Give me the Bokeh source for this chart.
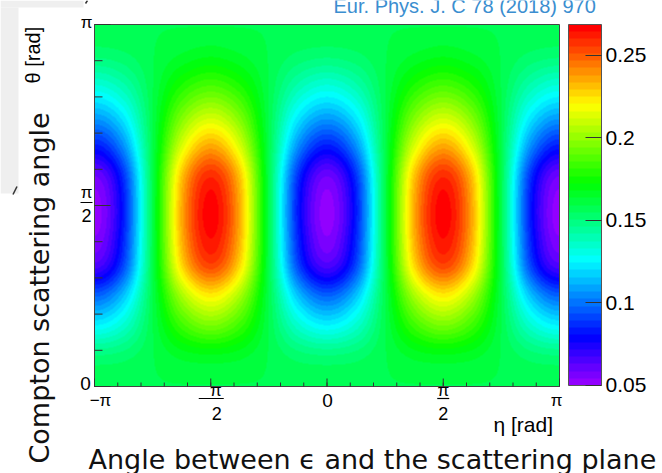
import colorsys
import numpy as np
from bokeh.plotting import figure
from bokeh.models import (LinearColorMapper, ColorBar, FixedTicker, Range1d,
                          CustomJSTickFormatter)
from bokeh.core.properties import value
from bokeh.embed import file_html
from bokeh.resources import INLINE

PI = np.pi

# ---- data ----
# eta nodes in units of pi/8 (from -pi to pi); theta nodes in degrees
eta_nodes_pi8 = [-8, -7, -6, -5, -4, -3, -2, -1, 0, 1, 2, 3, 4, 5, 6, 7, 8]
theta_nodes_deg = [0, 15, 30, 45, 60, 75, 90, 105, 120, 135, 150, 165, 180]

z_theta000 = [.159, .159, .159, .159, .159, .159, .159, .159, .159, .159, .159, .159, .159, .159, .159, .159, .159]
z_theta015 = [.151, .153, .159, .165, .167, .165, .159, .153, .151, .153, .159, .165, .167, .165, .159, .153, .151]
z_theta030 = [.125, .135, .159, .183, .194, .183, .159, .135, .125, .135, .159, .183, .194, .183, .159, .135, .125]
z_theta045 = [.097, .115, .159, .203, .222, .203, .159, .115, .097, .115, .159, .203, .222, .203, .159, .115, .097]
z_theta060 = [.065, .092, .159, .226, .254, .226, .159, .092, .065, .092, .159, .226, .254, .226, .159, .092, .065]
z_theta075 = [.054, .085, .159, .234, .265, .234, .159, .085, .054, .085, .159, .234, .265, .234, .159, .085, .054]
z_theta090 = [.052, .083, .159, .235, .267, .235, .159, .083, .052, .083, .159, .235, .267, .235, .159, .083, .052]
z_theta105 = [.059, .088, .159, .230, .259, .230, .159, .088, .059, .088, .159, .230, .259, .230, .159, .088, .059]
z_theta120 = [.084, .106, .159, .212, .235, .212, .159, .106, .084, .106, .159, .212, .235, .212, .159, .106, .084]
z_theta135 = [.110, .124, .159, .194, .209, .194, .159, .124, .110, .124, .159, .194, .209, .194, .159, .124, .110]
z_theta150 = [.133, .141, .159, .177, .185, .177, .159, .141, .133, .141, .159, .177, .185, .177, .159, .141, .133]
z_theta165 = [.152, .154, .159, .164, .167, .164, .159, .154, .152, .154, .159, .164, .167, .164, .159, .154, .152]
z_theta180 = [.159, .159, .159, .159, .159, .159, .159, .159, .159, .159, .159, .159, .159, .159, .159, .159, .159]

z_min, z_max = 0.0497, 0.2688
cb_ticks = [0.05, 0.10, 0.15, 0.20, 0.25]

x_major_ticks = [-PI, -PI / 2, 0.0, PI / 2, PI]
y_major_ticks = [0.0, PI / 2, PI]
minor_step = PI / 10

title_text = "Eur. Phys. J. C 78 (2018) 970"
x_title = "Angle between \u03f5 and the scattering plane"
y_title = "Compton scattering angle"
x_unit = "\u03b7 [rad]"
y_unit = "\u03b8 [rad]"

# ---- smooth display grid built from the read grid ----
grid = np.array([z_theta000, z_theta015, z_theta030, z_theta045, z_theta060, z_theta075,
                 z_theta090, z_theta105, z_theta120, z_theta135, z_theta150, z_theta165,
                 z_theta180])


def cr_weights(f):
    f2, f3 = f * f, f * f * f
    return [(-f3 + 2 * f2 - f) / 2, (3 * f3 - 5 * f2 + 2) / 2,
            (-3 * f3 + 4 * f2 + f) / 2, (f3 - f2) / 2]


def resample(arr, t, axis, periodic):
    n = arr.shape[axis]
    i = np.floor(t).astype(int)
    f = t - i
    out = 0
    for k, wk in zip(range(-1, 3), cr_weights(f)):
        idx = i + k
        idx = np.mod(idx, n) if periodic else np.clip(idx, 0, n - 1)
        part = np.take(arr, idx, axis=axis)
        shape = [1, 1]
        shape[axis] = -1
        out = out + part * wk.reshape(shape)
    return out


NX, NY = 465, 362
eta_pix = -PI + (np.arange(NX) + 0.5) * 2 * PI / NX
theta_pix_deg = (np.arange(NY) + 0.5) * 180.0 / NY
tmp = resample(grid[:, :-1], np.mod((eta_pix + PI) / (PI / 8), 16), axis=1, periodic=True)
Z = resample(tmp, theta_pix_deg / 15.0, axis=0, periodic=False)

# ROOT "pretty" palette: 50 colours violet -> red
palette = []
for i in range(50):
    h = 280 - (i + 1) * 280 / 50
    r, g, b = colorsys.hls_to_rgb(h / 360.0, 0.5, 1.0)
    palette.append("#%02x%02x%02x" % (int(round(r * 255)), int(round(g * 255)), int(round(b * 255))))

mapper = LinearColorMapper(palette=palette, low=z_min, high=z_max,
                           low_color=palette[0], high_color=palette[-1])

# ---- layout (pixels) ----
W, H = 662, 473
FL, FR, FT, FB = 94, 559, 24, 386          # heat-map frame on the page
KX = (FR - FL) / (2 * PI)                  # px per rad
KY = (FB - FT) / PI
MID = 0.35                                 # baseline -> middle, in em


def dx(cx):
    return -PI + (cx - FL) / KX


def dy(cy):
    return (FB - cy) / KY


p = figure(width=W, height=H, x_range=Range1d(dx(0), dx(W)), y_range=Range1d(dy(H), dy(0)),
           output_backend="svg", toolbar_location=None, min_border=0,
           x_axis_location=None, y_axis_location=None)
p.grid.visible = False
p.outline_line_color = None
p.background_fill_color = "white"
p.border_fill_color = "white"

# light gray strips at the top-left corner of the page (screenshot residue)
p.quad(left=[dx(0), dx(0)], right=[dx(83), dx(18)], top=[dy(0), dy(7)], bottom=[dy(7), dy(193)],
       fill_color="#efefef", line_color=None)
p.segment(x0=[dx(12.5), dx(85)], x1=[dx(16.5), dx(87)], y0=[dy(194), dy(3)], y1=[dy(186), dy(0)],
          line_color="#333333", line_width=1.5)

p.image(image=[Z], x=-PI, y=0, dw=2 * PI, dh=PI, color_mapper=mapper)
p.quad(left=[-PI], right=[PI], bottom=[0], top=[PI], fill_alpha=0,
       line_color="#444444", line_width=1)

# ticks (inside the frame, ROOT style)
TICK = "#333333"
xmin = [k * minor_step for k in range(-10, 11)]
ymin = [k * minor_step for k in range(0, 11)]
p.segment(x0=xmin, x1=xmin, y0=[0] * len(xmin), y1=[4 / KY] * len(xmin), line_color=TICK)
p.segment(x0=x_major_ticks, x1=x_major_ticks, y0=[0] * 5, y1=[8 / KY] * 5, line_color=TICK)
p.segment(x0=[-PI] * len(ymin), x1=[-PI + 8 / KX] * len(ymin), y0=ymin, y1=ymin, line_color=TICK)
p.segment(x0=[-PI] * 3, x1=[-PI + 16 / KX] * 3, y0=y_major_ticks, y1=y_major_ticks, line_color=TICK)

cb = ColorBar(color_mapper=mapper, ticker=FixedTicker(ticks=cb_ticks),
              formatter=CustomJSTickFormatter(code="return String(Math.round(tick*100)/100)"),
              width=33, height=361, location=(568, H - 385), padding=0, margin=0,
              major_tick_in=16, major_tick_out=0, major_tick_line_color="#333333",
              minor_tick_line_color=None, label_standoff=4,
              major_label_text_font_size="21px", major_label_text_font="Liberation Sans",
              major_label_text_color="black", background_fill_alpha=0,
              border_line_color=None, bar_line_color="#555555")
p.add_layout(cb)


def put(text, xd, yd, ox, base_dy, size, align="center", font="Liberation Sans",
        color="black", angle=0.0):
    # base_dy: screen offset (down) of the text baseline from the anchor point
    if angle == 0:
        xo, yo = ox, base_dy - MID * size
    else:  # rotated by +90 deg: text "up" is towards -x
        xo, yo = ox - MID * size, base_dy
    p.text(x=[xd], y=[yd], text=[text], x_offset=xo, y_offset=yo, text_font=value(font),
           text_font_size=f"{size}px", text_align=align, text_baseline="middle",
           text_color=color, angle=angle)


def frac_bar(xd, yd, px0, px1, py):
    p.segment(x0=[xd + px0 / KX], x1=[xd + px1 / KX], y0=[yd - py / KY], y1=[yd - py / KY],
              line_color="black", line_width=1.2)


# x tick labels
put("\u2212\u03c0", x_major_ticks[0], 0, 6, 20, 17)
put("\u03c0", x_major_ticks[1], 0, 5, 10, 17)
frac_bar(x_major_ticks[1], 0, -12, 13, 12)
put("2", x_major_ticks[1], 0, 6, 33, 18)
put("0", x_major_ticks[2], 0, 0.5, 21, 19)
put("\u03c0", x_major_ticks[3], 0, 0, 10, 17)
frac_bar(x_major_ticks[3], 0, -6, 6, 12)
put("2", x_major_ticks[3], 0, 0, 33, 18)
put("\u03c0", x_major_ticks[4], 0, -3, 20, 17)

# y tick labels
put("\u03c0", -PI, y_major_ticks[2], -8, 4, 17)
put("\u03c0", -PI, y_major_ticks[1], -8, -7, 17)
frac_bar(-PI, y_major_ticks[1], -14, -2, -3)
put("2", -PI, y_major_ticks[1], -8, 16, 18)
put("0", -PI, y_major_ticks[0], -9, 4, 19)

# axis titles and journal reference (anchored to page pixels)
put(x_unit, dx(493), dy(431), 0, 0, 21, align="left")
put(y_unit, dx(39), dy(83), 0, 0, 20, align="left", angle=PI / 2)
put(x_title, dx(88), dy(468), 0, 0, 27, align="left", font="DejaVu Sans", color="#111111")
put(y_title, dx(48.5), dy(463), 0, 0, 27, align="left", font="DejaVu Sans", color="#111111",
    angle=PI / 2)
put(title_text, dx(333), dy(12), 0, 0, 20, align="left", color="#3b8ed0")

open("out.html", "w").write(file_html(p, INLINE))
